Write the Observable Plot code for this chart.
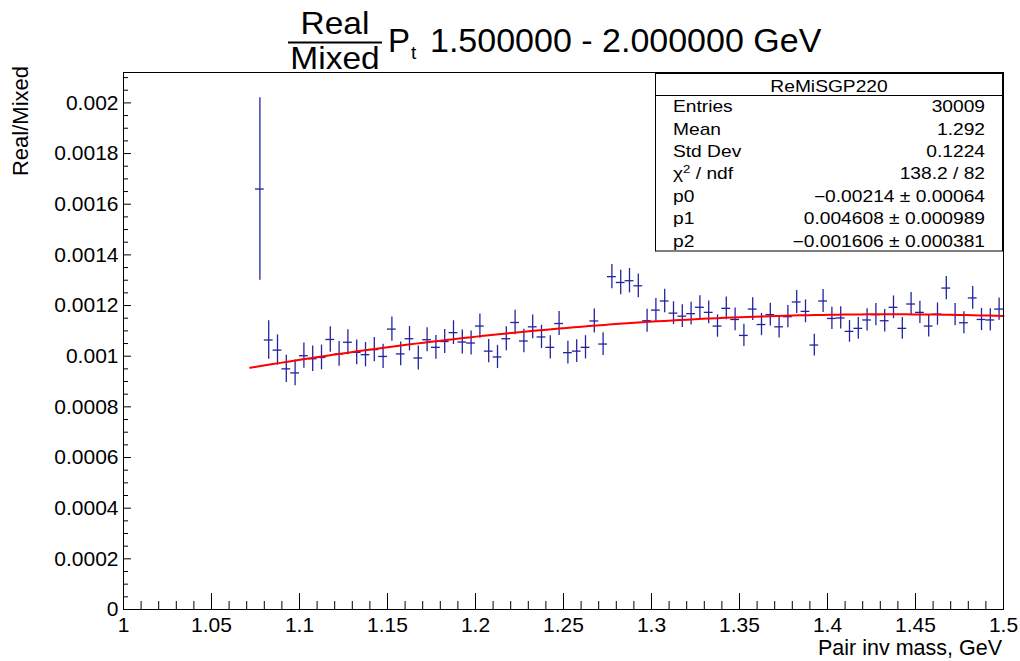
<!DOCTYPE html>
<html>
<head>
<meta charset="utf-8">
<script src="https://cdn.jsdelivr.net/npm/d3@7"></script>
<script src="https://cdn.jsdelivr.net/npm/@observablehq/plot@0.6"></script>
<style>
  html, body { margin: 0; padding: 0; background: #fff; }
  #chart { width: 1020px; height: 661px; }
  svg text { font-family: "Liberation Sans", Arial, Helvetica, sans-serif; }
</style>
</head>
<body>
<div id="chart"></div>
<script>
// Bin centres of the Real/Mixed ratio histogram (pair invariant mass, GeV)
const binCenters = [
  1.0775, 1.0825, 1.0875, 1.0925, 1.0975, 1.1025, 1.1075, 1.1125, 1.1175, 1.1225,
  1.1275, 1.1325, 1.1375, 1.1425, 1.1475, 1.1525, 1.1575, 1.1625, 1.1675, 1.1725,
  1.1775, 1.1825, 1.1875, 1.1925, 1.1975, 1.2025, 1.2075, 1.2125, 1.2175, 1.2225,
  1.2275, 1.2325, 1.2375, 1.2425, 1.2475, 1.2525, 1.2575, 1.2625, 1.2675, 1.2725,
  1.2775, 1.2825, 1.2875, 1.2925, 1.2975, 1.3025, 1.3075, 1.3125, 1.3175, 1.3225,
  1.3275, 1.3325, 1.3375, 1.3425, 1.3475, 1.3525, 1.3575, 1.3625, 1.3675, 1.3725,
  1.3775, 1.3825, 1.3875, 1.3925, 1.3975, 1.4025, 1.4075, 1.4125, 1.4175, 1.4225,
  1.4275, 1.4325, 1.4375, 1.4425, 1.4475, 1.4525, 1.4575, 1.4625, 1.4675, 1.4725,
  1.4775, 1.4825, 1.4875, 1.4925, 1.4975
];

// Ratio value in each bin
const ratio = [
  0.001660, 0.001064, 0.001024, 0.000950, 0.000934, 0.001002, 0.000990, 0.000995, 0.001066, 0.001009,
  0.001055, 0.001015, 0.001006, 0.001026, 0.000999, 0.001107, 0.001009, 0.001069, 0.000993, 0.001065,
  0.001035, 0.001058, 0.001093, 0.001056, 0.001052, 0.001119, 0.001020, 0.000997, 0.001069, 0.001133,
  0.001060, 0.001116, 0.001076, 0.001035, 0.001129, 0.001014, 0.001020, 0.001035, 0.001139, 0.001048,
  0.001314, 0.001291, 0.001298, 0.001278, 0.001140, 0.001182, 0.001218, 0.001170, 0.001158, 0.001168,
  0.001193, 0.001173, 0.001119, 0.001189, 0.001145, 0.001082, 0.001186, 0.001125, 0.001164, 0.001116,
  0.001156, 0.001214, 0.001177, 0.001044, 0.001218, 0.001149, 0.001151, 0.001098, 0.001110, 0.001143,
  0.001164, 0.001140, 0.001193, 0.001110, 0.001206, 0.001173, 0.001119, 0.001166, 0.001269, 0.001164,
  0.001132, 0.001230, 0.001145, 0.001143, 0.001186
];

// Statistical error of each bin
const ratioErr = [
  0.000360, 0.000076, 0.000060, 0.000054, 0.000051, 0.000050, 0.000050, 0.000049, 0.000050, 0.000049,
  0.000049, 0.000049, 0.000048, 0.000048, 0.000048, 0.000048, 0.000047, 0.000048, 0.000047, 0.000047,
  0.000047, 0.000047, 0.000047, 0.000047, 0.000047, 0.000048, 0.000046, 0.000046, 0.000047, 0.000048,
  0.000046, 0.000047, 0.000046, 0.000046, 0.000047, 0.000045, 0.000045, 0.000046, 0.000047, 0.000045,
  0.000048, 0.000048, 0.000048, 0.000047, 0.000045, 0.000046, 0.000046, 0.000045, 0.000045, 0.000045,
  0.000046, 0.000045, 0.000044, 0.000045, 0.000045, 0.000044, 0.000045, 0.000044, 0.000045, 0.000044,
  0.000044, 0.000045, 0.000045, 0.000043, 0.000045, 0.000044, 0.000044, 0.000043, 0.000043, 0.000044,
  0.000044, 0.000044, 0.000045, 0.000043, 0.000045, 0.000044, 0.000043, 0.000044, 0.000046, 0.000044,
  0.000043, 0.000045, 0.000044, 0.000044, 0.000044
];

// Second-order polynomial fit p0 + p1*x + p2*x^2 and its range
const fitParams = [-0.00214, 0.004608, -0.001606];
const fitRange = [1.072, 1.5];

// Axis ticks and labels
const xTicks = [1, 1.05, 1.1, 1.15, 1.2, 1.25, 1.3, 1.35, 1.4, 1.45, 1.5];
const xTickLabels = ["1", "1.05", "1.1", "1.15", "1.2", "1.25", "1.3", "1.35", "1.4", "1.45", "1.5"];
const yTicks = [0, 0.0002, 0.0004, 0.0006, 0.0008, 0.001, 0.0012, 0.0014, 0.0016, 0.0018, 0.002];
const yTickLabels = ["0", "0.0002", "0.0004", "0.0006", "0.0008", "0.001", "0.0012", "0.0014", "0.0016", "0.0018", "0.002"];

// Statistics box
const statsName = "ReMiSGP220";
const statsLabels = ["Entries", "Mean", "Std Dev", "χ2 / ndf", "p0", "p1", "p2"];
const statsValues = ["30009", "1.292", "0.1224", "138.2 / 82",
  "−0.00214 ± 0.00064", "0.004608 ± 0.000989", "−0.001606 ± 0.000381"];

const W = 1020, H = 661;
const mL = 123, mR = 17, mT = 72, mB = 52;
const innerW = W - mL - mR, innerH = H - mT - mB;
const yTop = 0.00212;
const binWidth = 0.005;
const blue = "#2323a0";

const points = binCenters.map((x, i) => ({x, v: ratio[i], e: ratioErr[i]}));

const fitCurve = d3.range(101).map(i => {
  const x = fitRange[0] + (fitRange[1] - fitRange[0]) * i / 100;
  return {x, y: fitParams[0] + fitParams[1] * x + fitParams[2] * x * x};
});

const xMinor = d3.range(1, 1.5001, 0.01).filter(t => !xTicks.some(m => Math.abs(m - t) < 1e-9));
const yMinor = d3.range(0, 0.00211, 0.00005).filter(t => !yTicks.some(m => Math.abs(m - t) < 1e-12));

const xLabelOf = new Map(xTicks.map((t, i) => [t, xTickLabels[i]]));
const yLabelOf = new Map(yTicks.map((t, i) => [t, yTickLabels[i]]));

const svg = Plot.plot({
  width: W,
  height: H,
  marginLeft: mL,
  marginRight: mR,
  marginTop: mT,
  marginBottom: mB,
  style: {
    fontFamily: '"Liberation Sans", Arial, Helvetica, sans-serif',
    fontSize: "21px",
    color: "#000",
    background: "#fff",
    overflow: "visible"
  },
  x: {domain: [1, 1.5], label: null},
  y: {domain: [0, yTop], label: null},
  marks: [
    // axis tick marks, drawn inward from the frame
    Plot.tickX(xMinor, {insetTop: innerH - 8, stroke: "#000", strokeWidth: 1}),
    Plot.tickX(xTicks, {insetTop: innerH - 16, stroke: "#000", strokeWidth: 1}),
    Plot.tickY(yMinor, {insetRight: innerW - 5, stroke: "#000", strokeWidth: 1}),
    Plot.tickY(yTicks, {insetRight: innerW - 8, stroke: "#000", strokeWidth: 1}),
    Plot.axisX({ticks: xTicks, tickSize: 0, tickPadding: 8, tickFormat: d => xLabelOf.get(d), label: null}),
    Plot.axisY({ticks: yTicks, tickSize: 0, tickPadding: 5, tickFormat: d => yLabelOf.get(d), label: null}),
    // error bars: vertical = statistical error, horizontal = bin width
    Plot.ruleX(points, {x: "x", y1: d => d.v - d.e, y2: d => d.v + d.e, stroke: blue, strokeWidth: 1.3}),
    Plot.ruleY(points, {y: "v", x1: d => d.x - binWidth / 2, x2: d => d.x + binWidth / 2, stroke: blue, strokeWidth: 1.3}),
    // fit function
    Plot.line(fitCurve, {x: "x", y: "y", stroke: "#ff0000", strokeWidth: 2}),
    Plot.frame({stroke: "#000", strokeWidth: 1})
  ]
});

document.getElementById("chart").appendChild(svg);

const root = d3.select(svg);
const font = '"Liberation Sans", Arial, Helvetica, sans-serif';

// Title: Real/Mixed fraction, P_t and the transverse-momentum range
const title = root.append("g").attr("font-family", font).attr("fill", "#000").attr("text-anchor", "start");
title.append("text").attr("transform", "translate(335,34) scale(1.08,1)").attr("text-anchor", "middle")
  .attr("font-size", 31).text("Real");
title.append("line").attr("x1", 288).attr("x2", 382).attr("y1", 42.5).attr("y2", 42.5)
  .attr("stroke", "#000").attr("stroke-width", 2);
title.append("text").attr("transform", "translate(335,69) scale(1.08,1)").attr("text-anchor", "middle")
  .attr("font-size", 31).text("Mixed");
title.append("text").attr("x", 388).attr("y", 52).attr("text-anchor", "start").attr("font-size", 33).text("P");
title.append("text").attr("x", 411).attr("y", 59).attr("text-anchor", "start").attr("font-size", 19).text("t");
title.append("text").attr("x", 430).attr("y", 52).attr("text-anchor", "start").attr("font-size", 34)
  .text("1.500000 - 2.000000 GeV");

// Axis titles
root.append("text").attr("x", 1002).attr("y", 655).attr("text-anchor", "end")
  .attr("font-family", font).attr("font-size", 21.5).text("Pair inv mass, GeV");
root.append("text").attr("transform", "translate(28,66) rotate(-90)").attr("text-anchor", "end")
  .attr("font-family", font).attr("font-size", 22).text("Real/Mixed");

// Statistics box
const box = root.append("g").attr("font-family", font).attr("fill", "#000").attr("text-anchor", "start");
box.append("rect").attr("x", 655.5).attr("y", 73.5).attr("width", 347).attr("height", 177.5)
  .attr("fill", "#fff").attr("stroke", "#000").attr("stroke-width", 1);
box.append("line").attr("x1", 655.5).attr("x2", 1002.5).attr("y1", 95.5).attr("y2", 95.5)
  .attr("stroke", "#000").attr("stroke-width", 1);
box.append("text").attr("transform", "translate(829,92) scale(1.2,1)").attr("text-anchor", "middle")
  .attr("font-size", 16).text(statsName);

const rowY = [112, 135, 157, 179, 202, 224, 247];
statsLabels.forEach((lab, i) => {
  const t = box.append("text").attr("transform", `translate(673,${rowY[i]}) scale(1.2,1)`)
    .attr("text-anchor", "start").attr("font-size", 16);
  if (lab.startsWith("χ2")) {
    t.append("tspan").text("χ");
    t.append("tspan").attr("font-size", 11).attr("dy", -6).text("2");
    t.append("tspan").attr("dy", 6).text(" / ndf");
  } else {
    t.text(lab);
  }
  box.append("text").attr("transform", `translate(985,${rowY[i]}) scale(1.2,1)`)
    .attr("text-anchor", "end").attr("font-size", 16).text(statsValues[i]);
});
</script>
</body>
</html>
